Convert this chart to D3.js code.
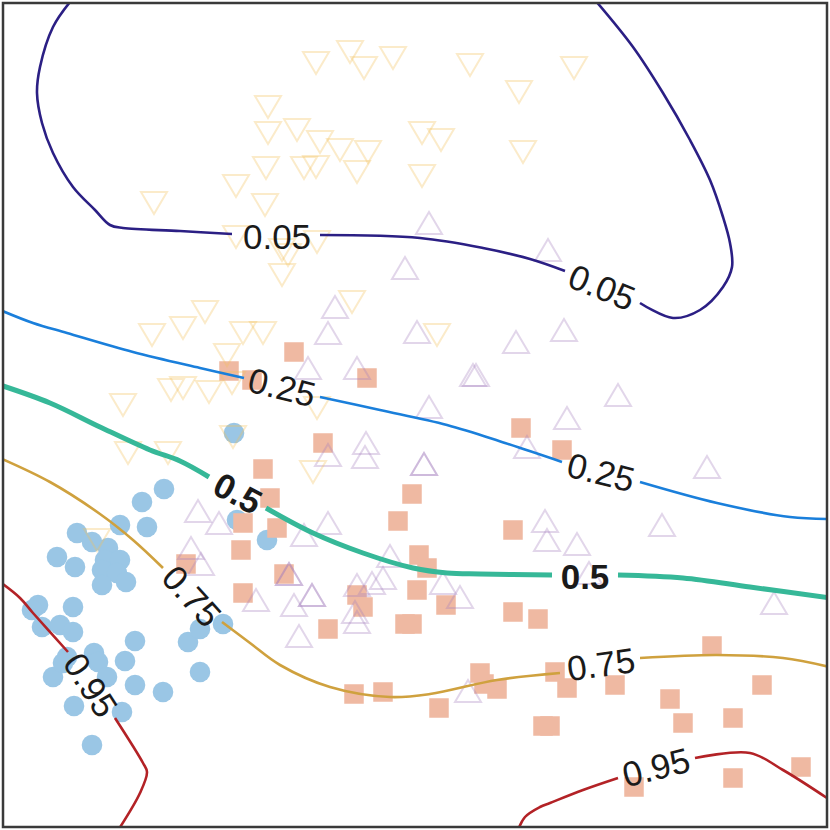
<!DOCTYPE html>
<html>
<head>
<meta charset="utf-8">
<script src="https://cdn.jsdelivr.net/npm/d3@7"></script>
<style>
  body { margin: 0; background: #fff; }
  svg { display: block; }
</style>
</head>
<body>
<svg id="chart"></svg>
<script>
// class 0: filled circles
const classCircle = [
  [23.4,39.7],[16.4,34.1],[14.2,32.8],[14.7,30.3],[12.0,30.5],[7.7,29.7],[9.2,28.8],
  [5.7,27.3],[7.5,26.3],[10.8,28.2],[10.5,27.0],[12.0,27.0],[10.2,26.0],[11.7,25.7],
  [12.6,24.8],[10.2,24.5],[23.7,31.0],[26.7,29.0],[3.8,22.5],[3.2,22.0],[7.3,22.3],
  [4.2,20.3],[6.0,20.5],[7.3,19.8],[6.7,17.3],[9.4,17.7],[9.8,16.8],[5.3,15.3],
  [10.7,15.3],[6.3,16.7],[13.5,18.9],[12.5,16.9],[13.5,14.5],[16.3,13.8],[18.8,18.8],
  [20.0,20.1],[22.3,20.6],[20.0,15.8],[7.4,12.4],[12.2,11.8],[9.2,8.5]
]
// class 1: filled squares
const classSquare = [
  [29.4,47.8],[22.9,45.9],[25.2,45.0],[36.7,45.2],[32.3,38.7],[52.1,40.2],[56.2,38.0],
  [26.3,36.1],[27.0,33.2],[24.3,30.7],[27.7,30.2],[24.1,28.0],[18.6,26.6],[41.2,33.6],
  [39.8,30.9],[41.9,27.5],[42.7,26.2],[28.4,25.6],[24.3,23.7],[41.7,24.0],[35.7,23.5],
  [36.3,22.3],[44.6,22.5],[40.5,20.6],[41.2,20.6],[32.8,20.1],[51.3,30.0],[51.3,21.8],
  [53.8,21.1],[35.4,13.6],[38.3,13.8],[43.9,12.2],[48.0,15.7],[48.4,14.6],[49.7,14.1],
  [54.3,10.4],[55.0,10.4],[55.5,15.8],[56.7,14.2],[61.5,14.5],[71.2,18.4],[67.0,13.1],
  [68.3,10.7],[73.3,11.2],[76.2,14.5],[63.4,4.3],[73.3,5.2],[80.1,6.3]
]
// class 2: open triangles (up)
const classTriUp = [
  [42.9,60.7],[54.8,58.0],[40.5,56.2],[33.5,52.3],[32.8,49.7],[41.7,49.8],[51.6,48.8],
  [56.4,50.0],[47.3,45.5],[47.6,45.5],[30.8,46.2],[35.7,46.2],[42.9,42.3],[56.7,41.2],
  [61.8,43.5],[52.7,38.3],[32.8,37.5],[36.6,38.7],[36.5,37.3],[42.4,36.6],[42.4,36.6],
  [19.8,31.9],[21.9,30.7],[32.8,30.7],[30.4,29.5],[19.1,28.2],[20.1,26.6],[39.0,27.4],
  [28.9,25.6],[28.9,25.6],[35.7,24.5],[37.2,24.7],[38.3,25.2],[44.3,24.7],[46.0,23.3],
  [31.2,23.5],[31.2,23.5],[25.6,23.0],[29.4,22.5],[35.5,21.8],[35.7,20.8],[29.9,19.4],
  [46.8,13.9],[54.5,30.9],[54.7,29.0],[57.7,28.6],[58.9,25.7],[66.2,30.5],[70.7,36.3],
  [77.4,22.7]
]
// class 3: open triangles (down)
const classTriDown = [
  [35.0,77.8],[31.6,76.7],[36.4,76.2],[39.3,77.2],[47.0,76.5],[57.4,76.2],[51.9,73.8],
  [26.8,72.3],[26.8,69.7],[29.7,70.0],[32.0,68.8],[34.0,68.0],[36.8,67.8],[42.2,69.7],
  [44.1,69.0],[52.3,67.8],[26.6,66.2],[30.4,66.2],[31.6,66.3],[35.7,65.8],[42.2,65.4],
  [23.6,64.4],[15.4,62.7],[26.5,62.5],[23.6,59.3],[31.7,58.8],[28.2,58.0],[28.8,57.5],
  [28.2,55.5],[35.2,52.8],[20.5,51.8],[18.3,50.2],[15.2,49.5],[24.3,49.7],[26.3,49.7],
  [43.7,49.5],[22.7,47.5],[17.1,44.0],[18.3,44.2],[20.9,43.8],[12.3,42.5],[23.2,44.7],
  [31.7,42.2],[12.8,37.7],[16.8,37.7],[23.3,39.3],[31.3,35.8],[9.7,29.0]
]

// contour levels, each split into pieces around its labels
const levels = ["0.05", "0.25", "0.5", "0.75", "0.95"]
const contour05 = [
  [[7.0,82.8],[5.3,80.3],[4.0,76.3],[3.7,73.7],[4.2,70.7],[5.3,67.7],[7.3,64.3],[9.5,62.0],
   [11.0,60.5],[12.3,60.2],[18.0,59.9],[23.2,59.6]],
  [[32.0,59.5],[42.0,59.2],[48.3,58.2],[53.0,57.1],[56.5,55.9]],
  [[64.0,52.7],[67.3,51.2],[70.0,52.0],[72.3,54.3],[73.2,56.3],[73.0,58.7],[72.3,61.3],
   [71.0,65.0],[69.0,69.0],[66.3,73.7],[63.3,78.3],[59.5,83.0]]
]
const contour25 = [
  [[0.0,52.0],[3.3,50.7],[6.7,49.7],[13.3,47.8],[20.0,46.2],[24.4,45.2]],
  [[32.0,43.3],[38.0,42.0],[44.7,40.5],[50.5,38.7],[56.2,36.8]],
  [[64.0,34.8],[71.7,32.7],[79.0,31.3],[83.0,31.1]]
]
const contour50 = [
  [[0.0,44.5],[5.0,42.7],[10.0,40.3],[15.0,38.0],[18.0,36.9],[20.9,35.3]],
  [[26.6,32.2],[31.3,29.7],[36.3,27.7],[41.3,26.2],[44.7,25.7],[48.0,25.6],[55.2,25.5]],
  [[61.8,25.5],[68.3,25.2],[75.0,24.3],[83.0,23.2]]
]
const contour75 = [
  [[0.0,37.2],[5.0,34.8],[10.0,31.6],[13.3,29.0],[16.3,26.2]],
  [[22.2,20.8],[25.0,18.7],[28.0,16.5],[33.0,14.3],[39.0,13.3],[43.0,13.6],[49.7,15.0],[56.0,15.7]],
  [[64.0,17.2],[71.7,17.5],[78.3,17.2],[83.0,16.3]]
]
const contour95 = [
  [[0.0,24.8],[2.0,23.2],[3.3,21.7],[6.8,17.8]],
  [[11.5,11.2],[14.3,6.7],[14.7,5.8],[14.0,3.7],[11.7,-0.2]],
  [[51.8,0.0],[52.5,1.3],[54.0,2.3],[55.0,2.7],[58.3,4.0],[61.8,5.2]],
  [[69.5,7.2],[75.0,7.7],[78.3,6.0],[83.0,3.0]]
]
const contours = [contour05, contour25, contour50, contour75, contour95]

// label anchor [x, y, rotation in degrees]
const labels05 = [[27.7,59.4,0],[60.2,54.3,22]]
const labels25 = [[28.2,44.3,14],[60.1,35.8,14]]
const labels50 = [[23.8,33.7,28],[58.5,25.4,0]]
const labels75 = [[19.2,23.4,48],[60.1,16.6,-8]]
const labels95 = [[9.1,14.5,57],[65.6,6.3,-14]]
const contourLabels = [labels05, labels25, labels50, labels75, labels95]

const lineColors = ["#2b1f84", "#1a7fdb", "#36b898", "#cfa13e", "#b32226"]
const lineWidths = [2.6, 2.6, 5, 2.6, 2.6]

var width = 830, height = 830

var svg = d3.select("#chart")
    .attr("width", width)
    .attr("height", height)

var x = d3.scaleLinear().domain([0, 83]).range([0, width])
var y = d3.scaleLinear().domain([0, 83]).range([height, 0])

var x0 = x(0.3), x1 = x(82.7), y0 = y(82.7), y1 = y(0.3)

svg.append("clipPath").attr("id", "clip")
    .append("rect")
    .attr("x", x0).attr("y", y0)
    .attr("width", x1 - x0).attr("height", y1 - y0)

var plot = svg.append("g").attr("clip-path", "url(#clip)")

// circles
plot.append("g").selectAll("circle")
    .data(classCircle)
    .join("circle")
    .attr("cx", d => x(d[0]))
    .attr("cy", d => y(d[1]))
    .attr("r", 10.3)
    .style("fill", "#9ac6e5")

// squares
var sq = 19.5
plot.append("g").selectAll("rect")
    .data(classSquare)
    .join("rect")
    .attr("x", d => x(d[0]) - sq / 2)
    .attr("y", d => y(d[1]) - sq / 2)
    .attr("width", sq)
    .attr("height", sq)
    .style("fill", "#efb9a2")

// triangles, centred on their bounding box
var tw = 13, th = 11
var triUp = "M0," + (-th) + "L" + tw + "," + th + "L" + (-tw) + "," + th + "Z"
var triDown = "M" + (-tw) + "," + (-th) + "L" + tw + "," + (-th) + "L0," + th + "Z"

plot.append("g").selectAll("path")
    .data(classTriUp)
    .join("path")
    .attr("d", triUp)
    .attr("transform", d => "translate(" + x(d[0]) + "," + y(d[1]) + ")")
    .style("fill", "none")
    .style("stroke", "#a67fbf")
    .style("stroke-opacity", 0.32)
    .style("stroke-width", 2)

plot.append("g").selectAll("path")
    .data(classTriDown)
    .join("path")
    .attr("d", triDown)
    .attr("transform", d => "translate(" + x(d[0]) + "," + y(d[1]) + ")")
    .style("fill", "none")
    .style("stroke", "#f2c25a")
    .style("stroke-opacity", 0.32)
    .style("stroke-width", 2)

// contour lines
var line = d3.line()
    .x(d => x(d[0]))
    .y(d => y(d[1]))
    .curve(d3.curveCatmullRom.alpha(0.5))

contours.forEach((pieces, i) => {
    plot.append("g").selectAll("path")
        .data(pieces)
        .join("path")
        .attr("d", line)
        .style("fill", "none")
        .style("stroke", lineColors[i])
        .style("stroke-width", lineWidths[i])
        .style("stroke-linejoin", "round")
})

// contour labels
contourLabels.forEach((labs, i) => {
    svg.append("g").selectAll("text")
        .data(labs)
        .join("text")
        .attr("transform", d => "translate(" + x(d[0]) + "," + y(d[1]) + ") rotate(" + d[2] + ")")
        .attr("text-anchor", "middle")
        .attr("dy", "0.36em")
        .style("font-family", "'Liberation Sans', Arial, Helvetica, sans-serif")
        .style("font-size", "35px")
        .style("font-weight", levels[i] === "0.5" ? "bold" : "normal")
        .style("fill", "#1a1a1a")
        .text(levels[i])
})

// frame
svg.append("rect")
    .attr("x", x0).attr("y", y0)
    .attr("width", x1 - x0).attr("height", y1 - y0)
    .style("fill", "none")
    .style("stroke", "#3a3a3a")
    .style("stroke-width", 2.5)
</script>
</body>
</html>
